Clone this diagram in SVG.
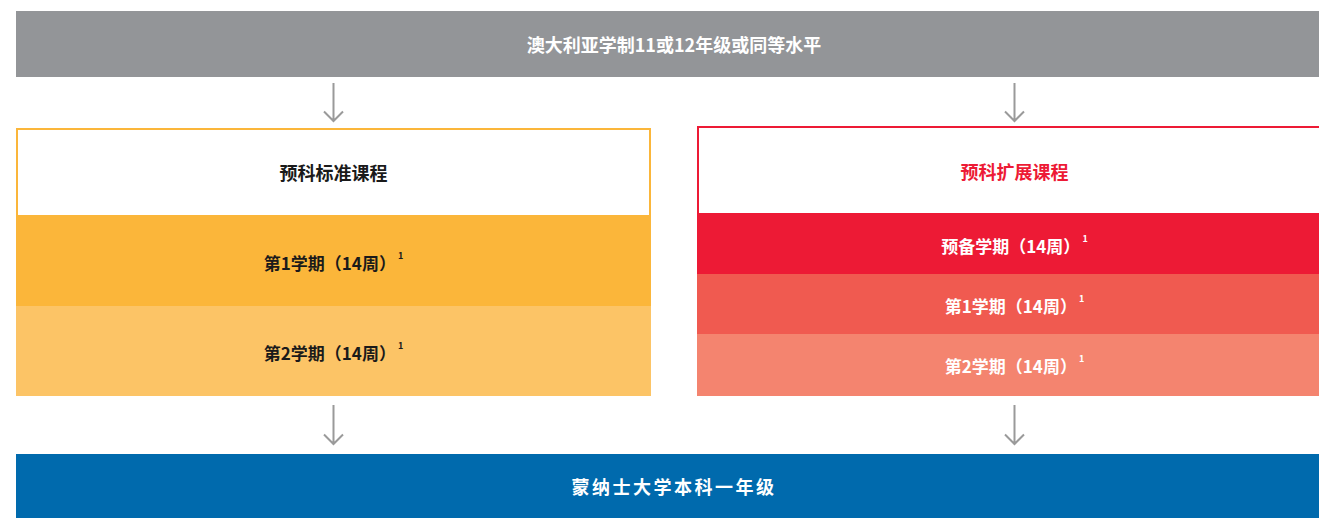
<svg xmlns="http://www.w3.org/2000/svg" width="1319" height="518" viewBox="0 0 1319 518">
<defs>
<style>
.t{font-family:"Noto Sans CJK SC","Liberation Sans",sans-serif;font-weight:700;text-anchor:middle;dominant-baseline:central}
.w{fill:#ffffff}
.k{fill:#1a1a1a}
.r{fill:#ED1A35}
.big{font-size:18px}
.row{font-size:17px}
.sup{font-size:9px}
.arr{fill:none;stroke:#9a9a9a;stroke-width:2}
</style>
</defs>
<rect width="1319" height="518" fill="#ffffff"/>
<g id="top">
<rect x="16" y="11" width="1316" height="66" fill="#939598"/>
<text class="t w big" x="674" y="44">澳大利亚学制11或12年级或同等水平</text>
</g>
<g id="standard">
<rect x="17" y="129" width="633" height="266" fill="#ffffff" stroke="#FBB63A" stroke-width="2"/>
<rect x="16" y="215" width="635" height="91" fill="#FBB63A"/>
<rect x="16" y="306" width="635" height="90" fill="#FCC466"/>
<text class="t k big" x="333.5" y="172">预科标准课程</text>
<text class="t k row" x="333.5" y="262">第1学期（14周）<tspan class="sup" dx="2" dy="-7">1</tspan></text>
<text class="t k row" x="333.5" y="352">第2学期（14周）<tspan class="sup" dx="2" dy="-7">1</tspan></text>
</g>
<g id="extended">
<rect x="698" y="127" width="640" height="268" fill="#ffffff" stroke="#ED1A35" stroke-width="2"/>
<rect x="697" y="213" width="640" height="61" fill="#ED1A35"/>
<rect x="697" y="274" width="640" height="60" fill="#F05A50"/>
<rect x="697" y="334" width="640" height="62" fill="#F4846F"/>
<text class="t r big" x="1014.5" y="171">预科扩展课程</text>
<text class="t w row" x="1014.5" y="245">预备学期（14周）<tspan class="sup" dx="2" dy="-7">1</tspan></text>
<text class="t w row" x="1014.5" y="305">第1学期（14周）<tspan class="sup" dx="2" dy="-7">1</tspan></text>
<text class="t w row" x="1014.5" y="365">第2学期（14周）<tspan class="sup" dx="2" dy="-7">1</tspan></text>
</g>
<g id="bottom">
<rect x="16" y="454" width="1316" height="64" fill="#006AAD"/>
<text class="t w big" x="674" y="486" letter-spacing="2.5">蒙纳士大学本科一年级</text>
</g>
<g id="connectors">
<path class="arr" d="M333.5 83V121M324 111.5L333.5 121L343 111.5"/>
<path class="arr" d="M1014.5 83V121M1005 111.5L1014.5 121L1024 111.5"/>
<path class="arr" d="M333.5 405V444M324 434.5L333.5 444L343 434.5"/>
<path class="arr" d="M1014.5 405V444M1005 434.5L1014.5 444L1024 434.5"/>
</g>
</svg>
